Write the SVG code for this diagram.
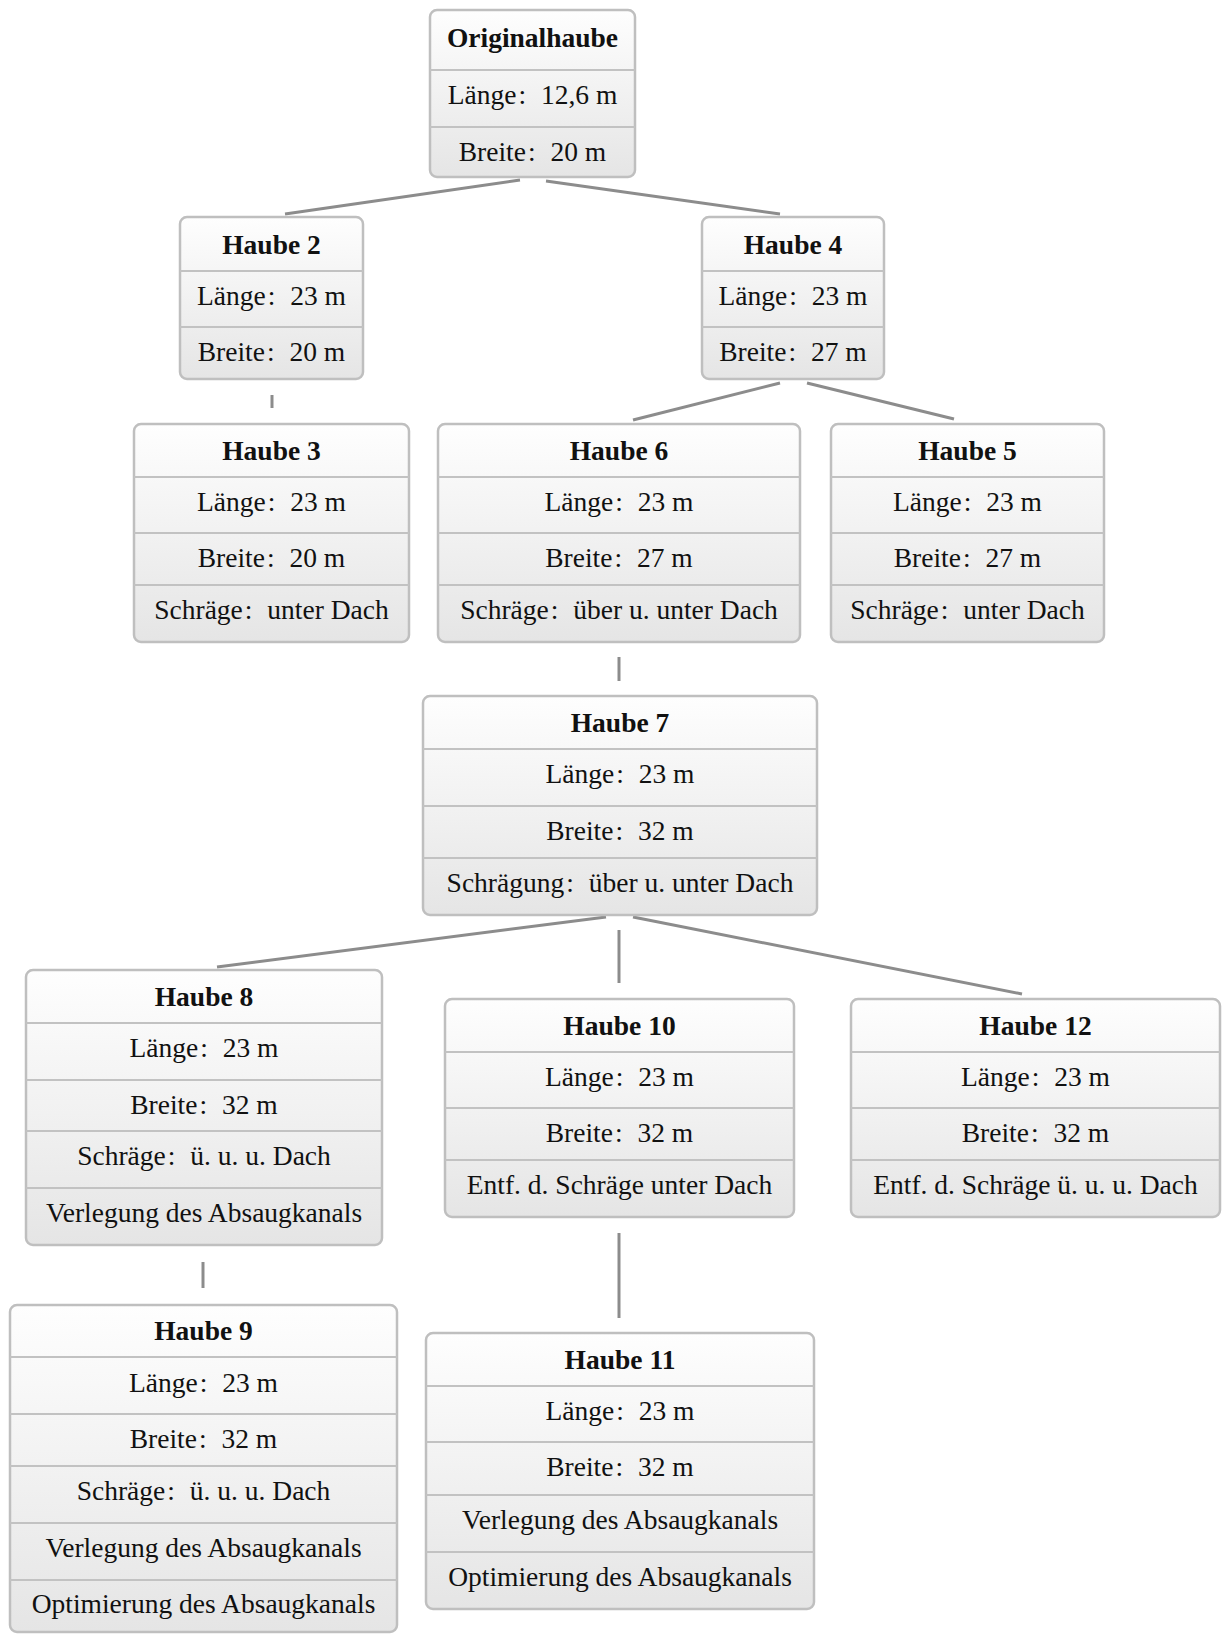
<svg xmlns="http://www.w3.org/2000/svg" width="1222" height="1634" viewBox="0 0 1222 1634">
<style>
.box{fill:url(#g);stroke:#bfbfbf;stroke-width:2.5}
.div{stroke:#c2c2c2;stroke-width:2.2}
.t{font-family:"Liberation Serif","Times New Roman",serif;font-size:27.5px;fill:#111;text-anchor:middle}
.h{font-weight:bold}
.c{stroke:#8c8c8c;stroke-width:3;fill:none}
</style>
<defs>
<linearGradient id="g" x1="0" y1="0" x2="0" y2="1">
<stop offset="0" stop-color="#fefefe"/>
<stop offset="1" stop-color="#e5e5e5"/>
</linearGradient>
</defs>
<g id="connectors">
<line class="c" x1="520" y1="180" x2="285" y2="214"/>
<line class="c" x1="546" y1="181" x2="780" y2="214"/>
<line class="c" x1="272" y1="395" x2="272" y2="408"/>
<line class="c" x1="780" y1="383" x2="633" y2="420"/>
<line class="c" x1="807" y1="383" x2="954" y2="419"/>
<line class="c" x1="619" y1="657" x2="619" y2="681"/>
<line class="c" x1="606" y1="917" x2="217" y2="967"/>
<line class="c" x1="619" y1="930" x2="619" y2="983"/>
<line class="c" x1="633" y1="917" x2="1022" y2="994"/>
<line class="c" x1="203" y1="1262" x2="203" y2="1288"/>
<line class="c" x1="619" y1="1233" x2="619" y2="1318"/>
</g>
<g id="n_original">
<rect class="box" x="430" y="10" width="205" height="167" rx="7"/>
<line class="div" x1="430" y1="70" x2="635" y2="70"/>
<line class="div" x1="430" y1="127" x2="635" y2="127"/>
<text class="t h" x="532.5" y="47">Originalhaube</text>
<text class="t" x="532.5" y="104">Länge<tspan dx="2">:</tspan><tspan dx="8"> 12,6 m</tspan></text>
<text class="t" x="532.5" y="161">Breite<tspan dx="2">:</tspan><tspan dx="8"> 20 m</tspan></text>
</g>
<g id="n_haube2">
<rect class="box" x="180" y="217" width="183" height="162" rx="7"/>
<line class="div" x1="180" y1="271" x2="363" y2="271"/>
<line class="div" x1="180" y1="327" x2="363" y2="327"/>
<text class="t h" x="271.5" y="254">Haube 2</text>
<text class="t" x="271.5" y="305">Länge<tspan dx="2">:</tspan><tspan dx="8"> 23 m</tspan></text>
<text class="t" x="271.5" y="361">Breite<tspan dx="2">:</tspan><tspan dx="8"> 20 m</tspan></text>
</g>
<g id="n_haube4">
<rect class="box" x="702" y="217" width="182" height="162" rx="7"/>
<line class="div" x1="702" y1="271" x2="884" y2="271"/>
<line class="div" x1="702" y1="327" x2="884" y2="327"/>
<text class="t h" x="793" y="254">Haube 4</text>
<text class="t" x="793" y="305">Länge<tspan dx="2">:</tspan><tspan dx="8"> 23 m</tspan></text>
<text class="t" x="793" y="361">Breite<tspan dx="2">:</tspan><tspan dx="8"> 27 m</tspan></text>
</g>
<g id="n_haube3">
<rect class="box" x="134" y="424" width="275" height="218" rx="7"/>
<line class="div" x1="134" y1="477" x2="409" y2="477"/>
<line class="div" x1="134" y1="533" x2="409" y2="533"/>
<line class="div" x1="134" y1="585" x2="409" y2="585"/>
<text class="t h" x="271.5" y="460">Haube 3</text>
<text class="t" x="271.5" y="511">Länge<tspan dx="2">:</tspan><tspan dx="8"> 23 m</tspan></text>
<text class="t" x="271.5" y="567">Breite<tspan dx="2">:</tspan><tspan dx="8"> 20 m</tspan></text>
<text class="t" x="271.5" y="619">Schräge<tspan dx="2">:</tspan><tspan dx="8"> unter Dach</tspan></text>
</g>
<g id="n_haube6">
<rect class="box" x="438" y="424" width="362" height="218" rx="7"/>
<line class="div" x1="438" y1="477" x2="800" y2="477"/>
<line class="div" x1="438" y1="533" x2="800" y2="533"/>
<line class="div" x1="438" y1="585" x2="800" y2="585"/>
<text class="t h" x="619" y="460">Haube 6</text>
<text class="t" x="619" y="511">Länge<tspan dx="2">:</tspan><tspan dx="8"> 23 m</tspan></text>
<text class="t" x="619" y="567">Breite<tspan dx="2">:</tspan><tspan dx="8"> 27 m</tspan></text>
<text class="t" x="619" y="619">Schräge<tspan dx="2">:</tspan><tspan dx="8"> über u. unter Dach</tspan></text>
</g>
<g id="n_haube5">
<rect class="box" x="831" y="424" width="273" height="218" rx="7"/>
<line class="div" x1="831" y1="477" x2="1104" y2="477"/>
<line class="div" x1="831" y1="533" x2="1104" y2="533"/>
<line class="div" x1="831" y1="585" x2="1104" y2="585"/>
<text class="t h" x="967.5" y="460">Haube 5</text>
<text class="t" x="967.5" y="511">Länge<tspan dx="2">:</tspan><tspan dx="8"> 23 m</tspan></text>
<text class="t" x="967.5" y="567">Breite<tspan dx="2">:</tspan><tspan dx="8"> 27 m</tspan></text>
<text class="t" x="967.5" y="619">Schräge<tspan dx="2">:</tspan><tspan dx="8"> unter Dach</tspan></text>
</g>
<g id="n_haube7">
<rect class="box" x="423" y="696" width="394" height="219" rx="7"/>
<line class="div" x1="423" y1="749" x2="817" y2="749"/>
<line class="div" x1="423" y1="806" x2="817" y2="806"/>
<line class="div" x1="423" y1="858" x2="817" y2="858"/>
<text class="t h" x="620" y="732">Haube 7</text>
<text class="t" x="620" y="783">Länge<tspan dx="2">:</tspan><tspan dx="8"> 23 m</tspan></text>
<text class="t" x="620" y="840">Breite<tspan dx="2">:</tspan><tspan dx="8"> 32 m</tspan></text>
<text class="t" x="620" y="892">Schrägung<tspan dx="2">:</tspan><tspan dx="8"> über u. unter Dach</tspan></text>
</g>
<g id="n_haube8">
<rect class="box" x="26" y="970" width="356" height="275" rx="7"/>
<line class="div" x1="26" y1="1023" x2="382" y2="1023"/>
<line class="div" x1="26" y1="1080" x2="382" y2="1080"/>
<line class="div" x1="26" y1="1131" x2="382" y2="1131"/>
<line class="div" x1="26" y1="1188" x2="382" y2="1188"/>
<text class="t h" x="204" y="1006">Haube 8</text>
<text class="t" x="204" y="1057">Länge<tspan dx="2">:</tspan><tspan dx="8"> 23 m</tspan></text>
<text class="t" x="204" y="1114">Breite<tspan dx="2">:</tspan><tspan dx="8"> 32 m</tspan></text>
<text class="t" x="204" y="1165">Schräge<tspan dx="2">:</tspan><tspan dx="8"> ü. u. u. Dach</tspan></text>
<text class="t" x="204" y="1222">Verlegung des Absaugkanals</text>
</g>
<g id="n_haube10">
<rect class="box" x="445" y="999" width="349" height="218" rx="7"/>
<line class="div" x1="445" y1="1052" x2="794" y2="1052"/>
<line class="div" x1="445" y1="1108" x2="794" y2="1108"/>
<line class="div" x1="445" y1="1160" x2="794" y2="1160"/>
<text class="t h" x="619.5" y="1035">Haube 10</text>
<text class="t" x="619.5" y="1086">Länge<tspan dx="2">:</tspan><tspan dx="8"> 23 m</tspan></text>
<text class="t" x="619.5" y="1142">Breite<tspan dx="2">:</tspan><tspan dx="8"> 32 m</tspan></text>
<text class="t" x="619.5" y="1194">Entf. d. Schräge unter Dach</text>
</g>
<g id="n_haube12">
<rect class="box" x="851" y="999" width="369" height="218" rx="7"/>
<line class="div" x1="851" y1="1052" x2="1220" y2="1052"/>
<line class="div" x1="851" y1="1108" x2="1220" y2="1108"/>
<line class="div" x1="851" y1="1160" x2="1220" y2="1160"/>
<text class="t h" x="1035.5" y="1035">Haube 12</text>
<text class="t" x="1035.5" y="1086">Länge<tspan dx="2">:</tspan><tspan dx="8"> 23 m</tspan></text>
<text class="t" x="1035.5" y="1142">Breite<tspan dx="2">:</tspan><tspan dx="8"> 32 m</tspan></text>
<text class="t" x="1035.5" y="1194">Entf. d. Schräge ü. u. u. Dach</text>
</g>
<g id="n_haube9">
<rect class="box" x="10" y="1305" width="387" height="327" rx="7"/>
<line class="div" x1="10" y1="1357" x2="397" y2="1357"/>
<line class="div" x1="10" y1="1414" x2="397" y2="1414"/>
<line class="div" x1="10" y1="1466" x2="397" y2="1466"/>
<line class="div" x1="10" y1="1523" x2="397" y2="1523"/>
<line class="div" x1="10" y1="1580" x2="397" y2="1580"/>
<text class="t h" x="203.5" y="1340">Haube 9</text>
<text class="t" x="203.5" y="1392">Länge<tspan dx="2">:</tspan><tspan dx="8"> 23 m</tspan></text>
<text class="t" x="203.5" y="1448">Breite<tspan dx="2">:</tspan><tspan dx="8"> 32 m</tspan></text>
<text class="t" x="203.5" y="1500">Schräge<tspan dx="2">:</tspan><tspan dx="8"> ü. u. u. Dach</tspan></text>
<text class="t" x="203.5" y="1557">Verlegung des Absaugkanals</text>
<text class="t" x="203.5" y="1613">Optimierung des Absaugkanals</text>
</g>
<g id="n_haube11">
<rect class="box" x="426" y="1333" width="388" height="276" rx="7"/>
<line class="div" x1="426" y1="1386" x2="814" y2="1386"/>
<line class="div" x1="426" y1="1442" x2="814" y2="1442"/>
<line class="div" x1="426" y1="1495" x2="814" y2="1495"/>
<line class="div" x1="426" y1="1552" x2="814" y2="1552"/>
<text class="t h" x="620" y="1369">Haube 11</text>
<text class="t" x="620" y="1420">Länge<tspan dx="2">:</tspan><tspan dx="8"> 23 m</tspan></text>
<text class="t" x="620" y="1476">Breite<tspan dx="2">:</tspan><tspan dx="8"> 32 m</tspan></text>
<text class="t" x="620" y="1529">Verlegung des Absaugkanals</text>
<text class="t" x="620" y="1586">Optimierung des Absaugkanals</text>
</g>
</svg>
